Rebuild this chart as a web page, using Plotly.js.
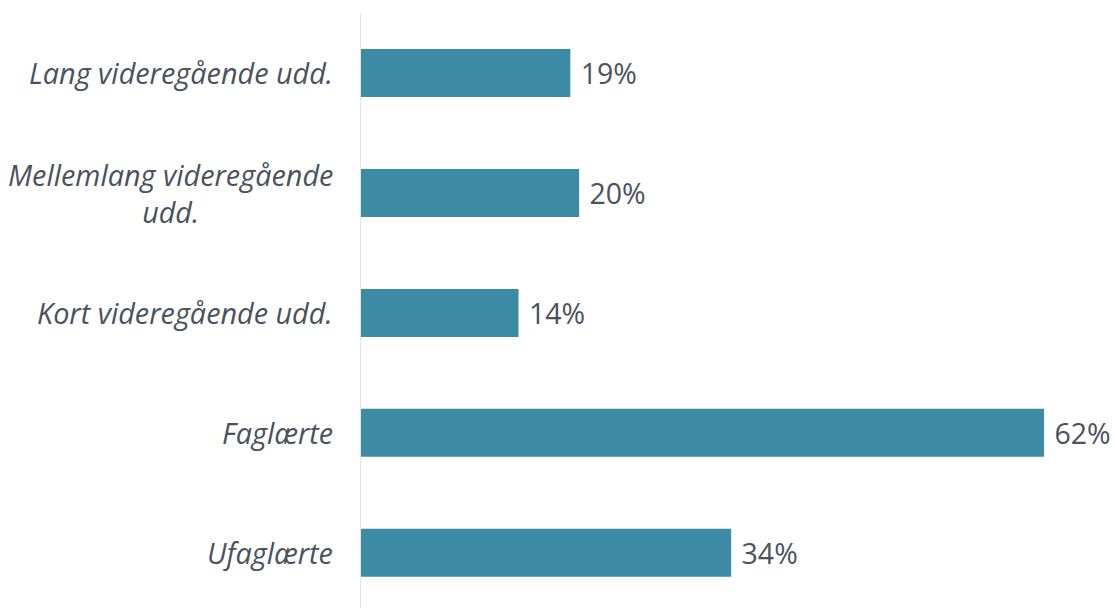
<!DOCTYPE html>
<html>
<head>
<meta charset="utf-8">
<script src="https://cdn.plot.ly/plotly-3.0.1.min.js"></script>
<style>
  html, body { margin: 0; padding: 0; background: #fff; }
  #chart { width: 1114px; height: 608px; }
</style>
</head>
<body>
<div id="chart"></div>
<script>
// categories bottom -> top
var categories = ['Ufaglærte', 'Faglærte', 'Kort videregående udd.', 'Mellemlang videregående udd.', 'Lang videregående udd.'];
var labels = ['Ufaglærte', 'Faglærte', 'Kort videregående udd.', 'Mellemlang videregående<br>udd.', 'Lang videregående udd.'];
var shares = [33.6, 62.0, 14.3, 19.8, 19.0];

var textColor = '#4a525d';
var barColor = '#3d8aa5';

var trace = {
    type: 'bar',
    orientation: 'h',
    y: categories,
    x: shares,
    width: 0.4,
    marker: { color: barColor },
    texttemplate: '\u00a0%{x:.0f}%',
    textposition: 'outside',
    cliponaxis: false,
    textfont: { family: 'Open Sans, sans-serif', size: 28.5, color: textColor },
    hoverinfo: 'none'
};

var annotations = categories.map(function(c, i) {
    return {
        xref: 'paper', yref: 'y',
        x: 0, y: c,
        xanchor: 'right', yanchor: 'middle',
        xshift: -26,
        align: 'center',
        showarrow: false,
        text: labels[i],
        font: { family: 'Open Sans, sans-serif', size: 28.8, color: textColor, style: 'italic' }
    };
});

var layout = {
    width: 1114,
    height: 608,
    margin: { l: 361, r: 0, t: 13, b: 0 },
    paper_bgcolor: '#ffffff',
    plot_bgcolor: '#ffffff',
    showlegend: false,
    xaxis: {
        range: [0, 68.35],
        showgrid: false,
        zeroline: false,
        showline: false,
        showticklabels: false,
        ticks: ''
    },
    yaxis: {
        type: 'category',
        categoryorder: 'array',
        categoryarray: categories,
        range: [-0.46, 4.5],
        showgrid: false,
        zeroline: false,
        showline: true,
        linecolor: '#e3e3e3',
        linewidth: 1,
        showticklabels: false,
        ticks: ''
    },
    annotations: annotations
};

Plotly.newPlot('chart', [trace], layout, { displayModeBar: false, staticPlot: true });
</script>
</body>
</html>
